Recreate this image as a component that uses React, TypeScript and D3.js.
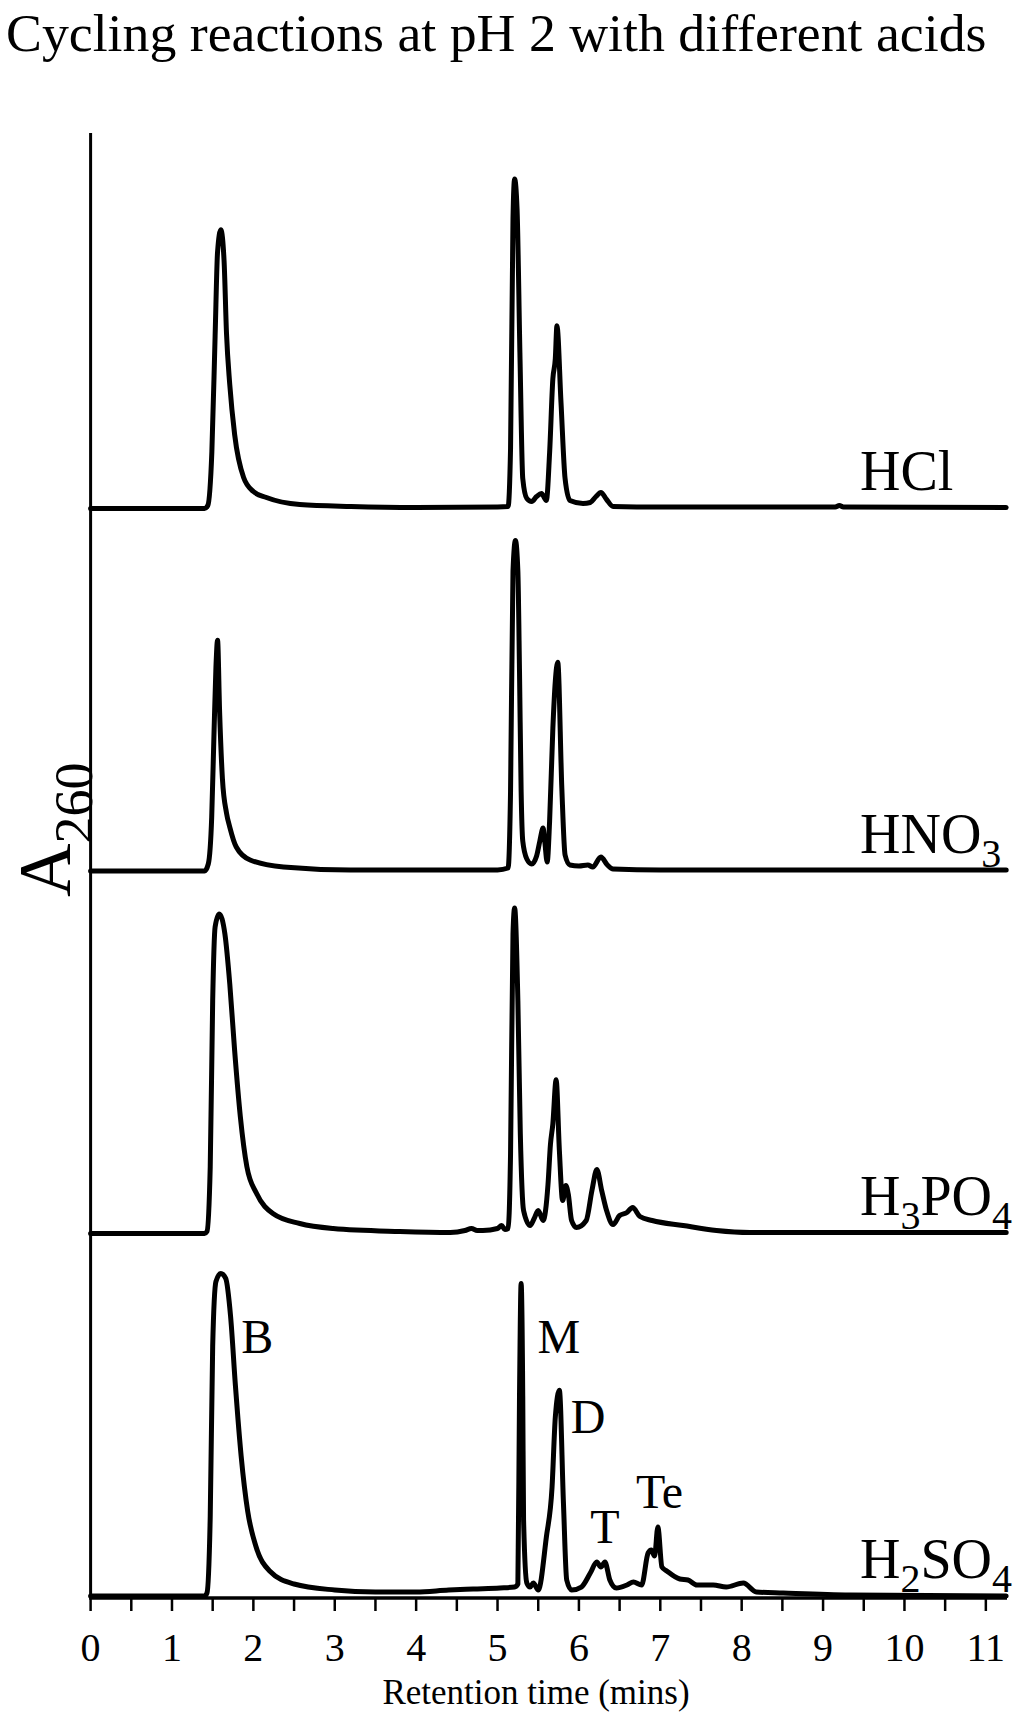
import React from "react";
import * as d3 from "d3";

// retention time (min), A260 (arbitrary units)
const hcl: [number, number][] = [
  [0, 0], [1.4, 0], [1.44, 3], [1.49, 57], [1.53, 173], [1.56, 257], [1.6, 279],
  [1.64, 248], [1.67, 175], [1.71, 124], [1.77, 74], [1.88, 31], [2.0, 17],
  [2.16, 11], [2.57, 4], [3.2, 2], [4.0, 1], [5.0, 1.5], [5.13, 2], [5.16, 60],
  [5.19, 290], [5.21, 330], [5.24, 300], [5.275, 156], [5.31, 30], [5.36, 10],
  [5.42, 7], [5.48, 12], [5.54, 15], [5.6, 8], [5.64, 56], [5.68, 130],
  [5.71, 150], [5.73, 183], [5.78, 106], [5.83, 30], [5.89, 8], [6.05, 5],
  [6.14, 6], [6.21, 12], [6.27, 16], [6.34, 9], [6.42, 2], [7.0, 1.5],
  [9.15, 1.5], [9.2, 3], [9.25, 1.5], [11.25, 1],
];
const hno3: [number, number][] = [
  [0, 0], [1.4, 0], [1.446, 7], [1.488, 54], [1.516, 137], [1.54, 204],
  [1.56, 231], [1.585, 160], [1.62, 92], [1.67, 58], [1.71, 44], [1.79, 24],
  [1.96, 11], [2.37, 4], [3.19, 1], [5.0, 1], [5.13, 3], [5.16, 80],
  [5.19, 300], [5.22, 331], [5.25, 300], [5.27, 200], [5.29, 80], [5.31, 30],
  [5.36, 12], [5.42, 7], [5.48, 15], [5.52, 30], [5.56, 43], [5.58, 30],
  [5.61, 9], [5.64, 50], [5.68, 143], [5.71, 190], [5.74, 209], [5.79, 83],
  [5.83, 16], [5.89, 6], [6.0, 5], [6.11, 6], [6.17, 4], [6.27, 14], [6.35, 6],
  [6.42, 2], [7.0, 1], [11.25, 1],
];
const h3po4: [number, number][] = [
  [0, 0], [1.4, 0], [1.43, 2], [1.47, 67], [1.5, 233], [1.53, 307], [1.58, 320],
  [1.65, 300], [1.71, 250], [1.77, 183], [1.84, 117], [1.92, 67], [2.04, 40],
  [2.24, 20], [2.57, 10], [2.98, 5], [3.8, 2], [4.42, 1], [4.6, 3], [4.68, 5],
  [4.75, 3], [4.82, 3], [5.0, 5], [5.05, 8], [5.09, 4], [5.13, 5], [5.16, 80],
  [5.19, 300], [5.21, 326], [5.25, 233], [5.28, 100], [5.32, 23], [5.4, 8],
  [5.45, 15], [5.5, 23], [5.56, 13], [5.62, 49], [5.65, 89], [5.68, 110],
  [5.72, 154], [5.76, 83], [5.8, 33], [5.84, 48], [5.87, 39], [5.91, 13],
  [5.97, 6], [6.09, 13], [6.16, 43], [6.22, 64], [6.28, 43], [6.34, 23],
  [6.42, 9], [6.5, 18], [6.59, 21], [6.66, 26], [6.75, 17], [6.9, 13],
  [7.28, 8], [7.69, 3], [8.1, 1], [11.25, 1],
];
const h2so4: [number, number][] = [
  [0, 0], [1.4, 0], [1.43, 3], [1.47, 80], [1.5, 250], [1.54, 315], [1.6, 323],
  [1.66, 318], [1.72, 280], [1.78, 210], [1.85, 140], [1.93, 85], [2.03, 50],
  [2.2, 25], [2.5, 12], [3.0, 6], [3.5, 4], [4.0, 4], [4.4, 6], [4.7, 7],
  [5.03, 8], [5.21, 9], [5.25, 12], [5.27, 200], [5.29, 313], [5.31, 200],
  [5.32, 76], [5.36, 13], [5.4, 9], [5.44, 13], [5.5, 6], [5.6, 59],
  [5.67, 109], [5.71, 179], [5.76, 206], [5.81, 93], [5.85, 16], [5.91, 6],
  [6.03, 9], [6.14, 23], [6.22, 34], [6.27, 29], [6.32, 34], [6.38, 16],
  [6.46, 8], [6.59, 11], [6.67, 14], [6.77, 11], [6.85, 43], [6.89, 46],
  [6.93, 40], [6.97, 69], [7.02, 29], [7.08, 25], [7.24, 17], [7.34, 16],
  [7.45, 11], [7.65, 11], [7.81, 9], [8.02, 13], [8.18, 4], [8.51, 3],
  [9.33, 1], [11.25, 0],
];

// top to bottom
const seriesData = [hcl, hno3, h3po4, h2so4];
const seriesNames = [
  ["H", "Cl"],
  ["HNO", "3"],
  ["H", "3", "PO", "4"],
  ["H", "2", "SO", "4"],
];
// peak labels on the H2SO4 trace: name, retention time, A260 at label baseline
const peakNames = ["B", "M", "D", "T", "Te"];
const peakTimes = [1.85, 5.49, 5.9, 6.14, 6.7];
const peakLevels = [243, 243, 163, 53, 88];

const xTicks = d3.range(0, 11.5, 0.5);
const xTickLabels = [0, 1, 2, 3, 4, 5, 6, 7, 8, 9, 10, 11];

const font = '"Liberation Serif", "Times New Roman", serif';
const panelStep = 363;

function App() {
  const width = 1024;
  const height = 1733;
  const x = d3.scaleLinear().domain([0, 11.26]).range([90.6, 1007]);
  const y = d3.scaleLinear().domain([0, 1465]).range([1596, 133]);
  const axisY = y(0) + 2;

  const lineFor = (offset: number) =>
    d3
      .line<[number, number]>()
      .x((d) => x(d[0]))
      .y((d) => y(d[1] + offset))
      .curve(d3.curveMonotoneX);

  return (
    <svg
      width={width}
      height={height}
      style={{ position: "absolute", left: 0, top: 0, background: "#fff" }}
    >
      <text x={6} y={51} fontFamily={font} fontSize={53.8} fill="#000">
        Cycling reactions at pH 2 with different acids
      </text>

      {/* y axis */}
      <line x1={x(0)} x2={x(0)} y1={133} y2={axisY} stroke="#000" strokeWidth={3} />
      <text
        transform={`translate(70, 897) rotate(-90)`}
        fontFamily={font}
        fill="#000"
      >
        <tspan fontSize={74}>A</tspan>
        <tspan fontSize={54} dy={22}>260</tspan>
      </text>

      {/* x axis */}
      <line x1={x(0) - 1.5} x2={1007} y1={axisY} y2={axisY} stroke="#000" strokeWidth={3.5} />
      {xTicks.map((t) => (
        <line key={t} x1={x(t)} x2={x(t)} y1={axisY} y2={axisY + 13} stroke="#000" strokeWidth={2.5} />
      ))}
      {xTickLabels.map((t) => (
        <text
          key={"l" + t}
          x={x(t)}
          y={1661}
          textAnchor="middle"
          fontFamily={font}
          fontSize={40}
          fill="#000"
        >
          {t}
        </text>
      ))}
      <text x={536} y={1704} textAnchor="middle" fontFamily={font} fontSize={35} fill="#000">
        Retention time (mins)
      </text>

      {/* traces */}
      {seriesData.map((s, i) => {
        const offset = (seriesData.length - 1 - i) * panelStep;
        return (
          <path
            key={i}
            d={lineFor(offset)(s) || ""}
            fill="none"
            stroke="#000"
            strokeWidth={5}
            strokeLinejoin="round"
            strokeLinecap="round"
          />
        );
      })}

      {/* series names */}
      {seriesNames.map((parts, i) => {
        const offset = (seriesData.length - 1 - i) * panelStep;
        return (
          <text key={"n" + i} x={860} y={y(offset) - 18} fontFamily={font} fontSize={56} fill="#000">
            {parts.map((p, j) => {
              const sub = /^\d$/.test(p);
              const prevSub = j > 0 && /^\d$/.test(parts[j - 1]);
              return (
                <tspan
                  key={j}
                  fontSize={sub ? 40 : 56}
                  dy={sub ? 14 : prevSub ? -14 : 0}
                >
                  {p}
                </tspan>
              );
            })}
          </text>
        );
      })}

      {/* peak labels */}
      {peakNames.map((p, i) => (
        <text key={p} x={x(peakTimes[i])} y={y(peakLevels[i])} fontFamily={font} fontSize={48} fill="#000">
          {p}
        </text>
      ))}
    </svg>
  );
}

export default App;
